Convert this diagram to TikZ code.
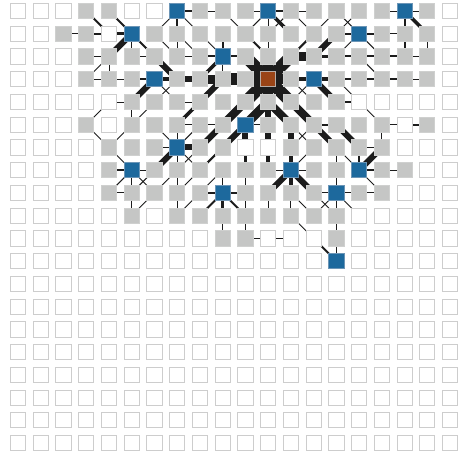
\documentclass[tikz,border=0pt]{standalone}
\usetikzlibrary{backgrounds}
\definecolor{cellgray}{HTML}{C5C6C5}
\definecolor{cellgrayb}{HTML}{CFD0CF}
\definecolor{cellwhiteb}{HTML}{CDCDCD}
\definecolor{cellblue}{HTML}{1D699D}
\definecolor{cellblueb}{HTML}{6C95B6}
\definecolor{cellorange}{HTML}{9A4416}
\definecolor{cellorangeb}{HTML}{B5ABA5}
\definecolor{connc}{HTML}{1C1C1C}
\newcommand\Wa{0.9pt}
\newcommand\Wb{2pt}
\newcommand\Wc{3.5pt}
\newcommand\Wd{6pt}
\newcommand\We{9pt}
\newcommand\Wf{12pt}
\newcommand\Wg{15pt}
\newcommand\connH[3]{\pgfmathtruncatemacro\cnext{#2+1}\draw[conn,line width=#3] (n-#1-#2.center) -- (n-#1-\cnext.center);}
\newcommand\connV[3]{\pgfmathtruncatemacro\rnext{#1+1}\draw[conn,line width=#3] (n-#1-#2.center) -- (n-\rnext-#2.center);}
\newcommand\connD[3]{\pgfmathtruncatemacro\rnext{#1+1}\pgfmathtruncatemacro\cnext{#2+1}\draw[conn,line width=#3] (n-#1-#2.center) -- (n-\rnext-\cnext.center);}
\newcommand\connA[3]{\pgfmathtruncatemacro\rnext{#1+1}\pgfmathtruncatemacro\cnext{#2+1}\draw[conn,line width=#3] (n-#1-\cnext.center) -- (n-\rnext-#2.center);}
\begin{document}
\begin{tikzpicture}[x=22.74pt,y=-22.74pt,
  cellbase/.style={minimum size=15.2pt,inner sep=0pt,line width=0.9pt,rectangle},
  stW/.style={cellbase,fill=white,draw=cellwhiteb},
  stG/.style={cellbase,fill=cellgray,draw=cellgrayb},
  stB/.style={cellbase,fill=cellblue,draw=cellblueb},
  stO/.style={cellbase,fill=cellorange,draw=cellorangeb},
  conn/.style={draw=connc}]
\useasboundingbox (0,0) rectangle (20.185,20.009);
\foreach \row [count=\r from 0] in {
 {W,W,W,G,G,W,W,B,G,G,G,B,G,G,G,G,G,B,G,W},
 {W,W,G,G,W,B,G,G,G,G,G,G,G,G,G,B,G,G,G,W},
 {W,W,W,G,G,G,G,G,G,B,G,G,G,G,G,G,G,G,G,W},
 {W,W,W,G,G,G,B,G,G,G,G,O,G,B,G,G,G,G,G,W},
 {W,W,W,W,W,G,G,G,G,G,G,G,G,G,G,W,W,W,W,W},
 {W,W,W,G,W,G,G,G,G,G,B,G,G,G,G,G,G,W,G,W},
 {W,W,W,W,G,G,G,B,G,G,W,W,G,G,G,G,G,W,W,W},
 {W,W,W,W,G,B,G,G,G,G,G,G,B,G,G,B,G,G,W,W},
 {W,W,W,W,G,G,G,G,G,B,G,G,G,G,B,G,G,W,W,W},
 {W,W,W,W,W,G,W,G,G,G,G,G,G,G,G,W,W,W,W,W},
 {W,W,W,W,W,W,W,W,W,G,G,W,W,W,G,W,W,W,W,W},
 {W,W,W,W,W,W,W,W,W,W,W,W,W,W,B,W,W,W,W,W},
 {W,W,W,W,W,W,W,W,W,W,W,W,W,W,W,W,W,W,W,W},
 {W,W,W,W,W,W,W,W,W,W,W,W,W,W,W,W,W,W,W,W},
 {W,W,W,W,W,W,W,W,W,W,W,W,W,W,W,W,W,W,W,W},
 {W,W,W,W,W,W,W,W,W,W,W,W,W,W,W,W,W,W,W,W},
 {W,W,W,W,W,W,W,W,W,W,W,W,W,W,W,W,W,W,W,W},
 {W,W,W,W,W,W,W,W,W,W,W,W,W,W,W,W,W,W,W,W},
 {W,W,W,W,W,W,W,W,W,W,W,W,W,W,W,W,W,W,W,W},
 {W,W,W,W,W,W,W,W,W,W,W,W,W,W,W,W,W,W,W,W}} {
  \foreach \t [count=\c from 0] in \row {
    \node[st\t] (n-\r-\c) at (\c+0.7916,\r+0.4837) {};
  }
}
\begin{scope}[on background layer]
% row 0
\connH{0}{7}{\Wb} \connH{0}{8}{\Wa} \connH{0}{10}{\Wa} \connH{0}{11}{\Wb} \connH{0}{12}{\Wa} \connH{0}{16}{\Wa} \connH{0}{17}{\Wa}
\connD{0}{3}{\Wb} \connD{0}{4}{\Wb} \connA{0}{6}{\Wa} \connV{0}{7}{\Wb} \connD{0}{7}{\Wa} \connD{0}{9}{\Wa} \connA{0}{10}{\Wa} \connV{0}{11}{\Wa} \connD{0}{11}{\Wc} \connA{0}{11}{\Wa} \connD{0}{12}{\Wa} \connA{0}{13}{\Wa} \connD{0}{14}{\Wa} \connA{0}{14}{\Wa} \connV{0}{17}{\Wb} \connD{0}{17}{\Wc}
% row 1
\connH{1}{2}{\Wa} \connH{1}{3}{\Wb} \connH{1}{4}{\Wc} \connH{1}{14}{\Wb} \connH{1}{15}{\Wb} \connH{1}{16}{\Wa}
\connA{1}{4}{\Wd} \connV{1}{5}{\Wa} \connD{1}{5}{\Wb} \connD{1}{6}{\Wa} \connV{1}{7}{\Wa} \connD{1}{7}{\Wa} \connD{1}{8}{\Wa} \connV{1}{9}{\Wb} \connD{1}{10}{\Wb} \connV{1}{11}{\Wa} \connA{1}{12}{\Wb} \connA{1}{13}{\Wd} \connA{1}{14}{\Wa} \connD{1}{15}{\Wa} \connV{1}{17}{\Wb} \connV{1}{18}{\Wa}
% row 2
\connH{2}{3}{\Wa} \connH{2}{5}{\Wa} \connH{2}{7}{\Wa} \connH{2}{8}{\Wb} \connH{2}{9}{\Wb} \connH{2}{12}{\We} \connH{2}{13}{\Wc} \connH{2}{14}{\Wb} \connH{2}{15}{\Wb} \connH{2}{16}{\Wb} \connH{2}{17}{\Wa}
\connA{2}{3}{\Wa} \connV{2}{4}{\Wa} \connD{2}{6}{\Wd} \connA{2}{8}{\Wc} \connV{2}{9}{\Wa} \connD{2}{10}{12pt} \connV{2}{11}{10pt} \connA{2}{11}{12pt} \connD{2}{15}{\Wa}
% row 3
\connH{3}{3}{\Wa} \connH{3}{4}{\Wa} \connH{3}{5}{\Wb} \connH{3}{6}{\Wc} \connH{3}{7}{\Wd} \connH{3}{8}{\We} \connH{3}{9}{\Wf} \connH{3}{10}{16pt} \connH{3}{11}{10pt} \connH{3}{12}{\Wc} \connH{3}{13}{\Wc} \connH{3}{14}{\Wb} \connH{3}{15}{\Wb} \connH{3}{16}{\Wb} \connH{3}{17}{\Wa}
\connA{3}{5}{\Wd} \connD{3}{6}{\Wa} \connA{3}{6}{\Wa} \connA{3}{8}{\Wd} \connA{3}{10}{12pt} \connV{3}{11}{10pt} \connD{3}{11}{12pt} \connD{3}{12}{\Wa} \connA{3}{12}{\Wa} \connD{3}{13}{\Wd} \connD{3}{14}{\Wa}
% row 4
\connH{4}{4}{\Wa} \connH{4}{7}{\Wa} \connH{4}{14}{\Wb}
\connA{4}{3}{\Wa} \connV{4}{5}{\Wa} \connA{4}{5}{\Wa} \connA{4}{7}{\Wc} \connA{4}{9}{8pt} \connA{4}{10}{9pt} \connV{4}{11}{\Wd} \connD{4}{11}{8pt} \connD{4}{12}{8pt} \connD{4}{15}{\Wa}
% row 5
\connH{5}{7}{\Wa} \connH{5}{8}{\Wa} \connH{5}{10}{\Wa} \connH{5}{13}{\Wb} \connH{5}{16}{\Wa} \connH{5}{17}{\Wb}
\connD{5}{3}{\Wa} \connA{5}{4}{\Wa} \connD{5}{6}{\Wa} \connV{5}{7}{\Wa} \connA{5}{7}{\Wa} \connA{5}{8}{\Wd} \connA{5}{9}{\Wd} \connV{5}{10}{\Wd} \connV{5}{11}{\Wd} \connV{5}{12}{\Wd} \connD{5}{12}{\Wa} \connA{5}{12}{\Wa} \connD{5}{13}{\Wd} \connD{5}{14}{\Wd} \connV{5}{16}{\Wa}
% row 6
\connH{6}{6}{\Wa} \connH{6}{7}{\Wd} \connH{6}{15}{\Wa}
\connD{6}{4}{\Wa} \connA{6}{6}{\Wd} \connV{6}{7}{\Wa} \connD{6}{7}{\Wa} \connA{6}{7}{\Wa} \connA{6}{8}{\Wb} \connV{6}{10}{\Wc} \connV{6}{11}{\Wc} \connV{6}{12}{\Wc} \connA{6}{12}{\Wa} \connV{6}{14}{\Wa} \connD{6}{14}{\Wa} \connV{6}{15}{\Wb} \connA{6}{15}{\Wd}
% row 7
\connH{7}{4}{\Wb} \connH{7}{5}{\Wa} \connH{7}{11}{\Wa} \connH{7}{12}{\Wa} \connH{7}{15}{\Wb} \connH{7}{16}{\Wa}
\connA{7}{4}{\Wa} \connV{7}{5}{\Wa} \connD{7}{5}{\Wa} \connA{7}{5}{\Wa} \connA{7}{6}{\Wa} \connV{7}{7}{\Wa} \connA{7}{7}{\Wa} \connA{7}{8}{\Wa} \connV{7}{9}{\Wa} \connV{7}{10}{\Wa} \connA{7}{11}{\Wd} \connV{7}{12}{\Wc} \connD{7}{12}{\Wd} \connV{7}{14}{\Wa} \connD{7}{15}{\Wa}
% row 8
\connH{8}{4}{\Wa} \connH{8}{8}{\Wb} \connH{8}{9}{\Wb} \connH{8}{13}{\Wa} \connH{8}{14}{\Wa} \connH{8}{15}{\Wa}
\connV{8}{5}{\Wa} \connA{8}{5}{\Wa} \connV{8}{7}{\Wa} \connA{8}{7}{\Wa} \connA{8}{8}{\Wb} \connV{8}{9}{\Wc} \connD{8}{9}{\Wb} \connV{8}{10}{\Wa} \connV{8}{11}{\Wa} \connV{8}{12}{\Wa} \connD{8}{12}{\Wa} \connD{8}{13}{\Wa} \connA{8}{13}{\Wa} \connV{8}{14}{\Wa} \connD{8}{14}{\Wa}
% row 9
\connV{9}{9}{\Wa} \connV{9}{10}{\Wa} \connD{9}{12}{\Wa} \connV{9}{14}{\Wa}
% row 10
\connH{10}{10}{\Wa} \connH{10}{11}{\Wa}
\connD{10}{13}{\Wb} \connV{10}{14}{\Wa}
\end{scope}
\end{tikzpicture}
\end{document}
